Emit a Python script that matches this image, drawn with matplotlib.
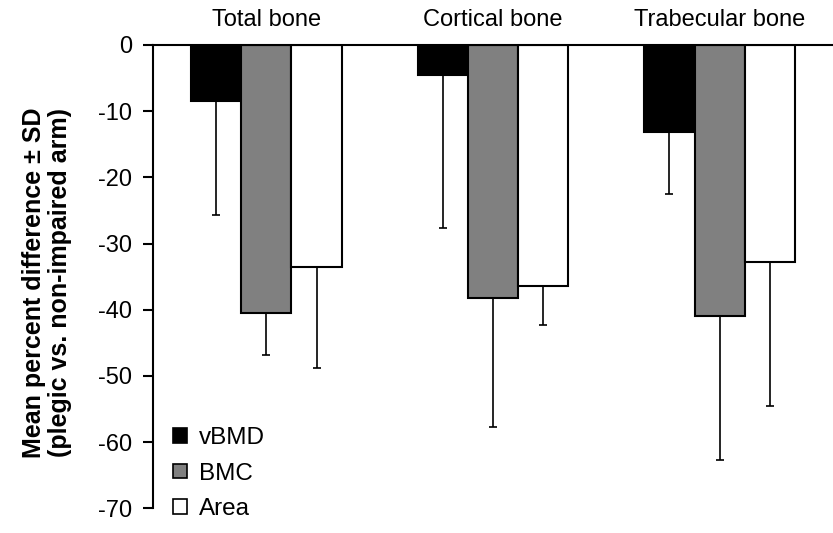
import numpy as np
import matplotlib
matplotlib.use("Agg")
import matplotlib.pyplot as plt
from matplotlib.patches import Patch

plt.rcParams['font.family'] = ['Liberation Sans', 'DejaVu Sans']

categories = ["Total bone", "Cortical bone", "Trabecular bone"]
series = ["vBMD", "BMC", "Area"]
mean_vbmd = [-8.4, -4.5, -13.1]
mean_bmc = [-40.5, -38.2, -40.9]
mean_area = [-33.6, -36.4, -32.8]
sd_vbmd = [17.3, 23.1, 9.4]
sd_bmc = [6.4, 19.5, 21.8]
sd_area = [15.2, 5.9, 21.7]
y_ticks = [0, -10, -20, -30, -40, -50, -60, -70]

means = [mean_vbmd, mean_bmc, mean_area]
sds = [sd_vbmd, sd_bmc, sd_area]
colors = ["#000000", "#808080", "#ffffff"]

fig = plt.figure(figsize=(8.33, 5.33), dpi=100)
ax = fig.add_axes([153 / 833, 24.7 / 533, 680 / 833, 463.3 / 533])

x = np.arange(len(categories))
w = 0.222
for i, (m, s, c) in enumerate(zip(means, sds, colors)):
    pos = x + (i - 1) * w
    ax.bar(pos, m, width=w, color=c, edgecolor="black", linewidth=1.5,
           label=series[i], zorder=2)
    ax.errorbar(pos, m, yerr=[s, np.zeros(len(s))], fmt="none",
                ecolor="black", elinewidth=1.2, capsize=3, capthick=1.2,
                zorder=3)

ax.set_xlim(-0.5, 2.5)
ax.set_ylim(-70, 0)
ax.set_yticks(y_ticks)
ax.set_yticklabels([str(v) if v == 0 else "-" + str(-v) for v in y_ticks])
ax.tick_params(axis="y", direction="out", length=7, width=1.5, labelsize=17, pad=8)

ax.set_xticks(x)
ax.set_xticklabels(categories)
ax.xaxis.set_ticks_position("top")
ax.tick_params(axis="x", length=0, labelsize=17, pad=10)

for side in ["right", "bottom"]:
    ax.spines[side].set_visible(False)
for side in ["left", "top"]:
    ax.spines[side].set_linewidth(1.5)

fig.text(47 / 833, 1 - 282.5 / 533,
         "Mean percent difference ± SD\n(plegic vs. non-impaired arm)",
         rotation=90, ha="center", va="center", fontsize=18,
         fontweight="bold", linespacing=1.1)

handles = [Patch(facecolor=c, edgecolor="black", linewidth=1.2) for c in colors]
ax.legend(handles, series, loc="lower left", bbox_to_anchor=(0.03, -0.025),
          frameon=False, fontsize=17.5, handlelength=0.55, handleheight=0.55,
          handletextpad=0.5, labelspacing=0.55, borderpad=0, borderaxespad=0)

fig.savefig("out.png", dpi=100)
